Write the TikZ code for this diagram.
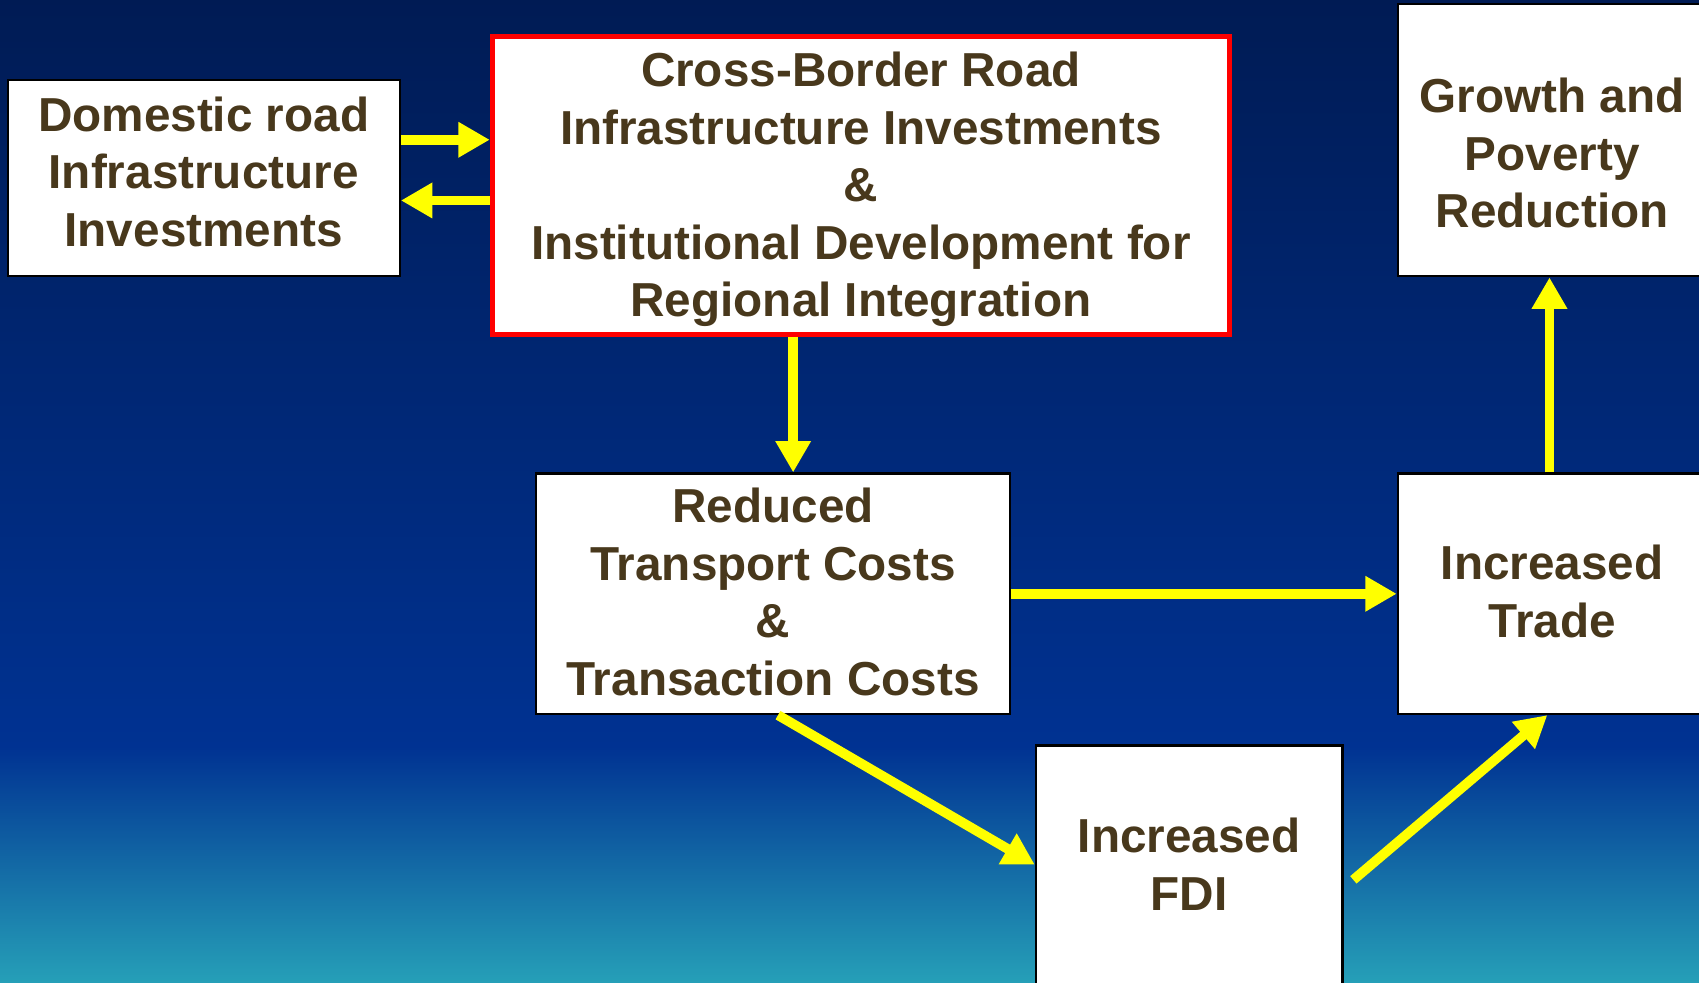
\documentclass[tikz,border=0pt]{standalone}
\usepackage{fontspec}
\setmainfont{Liberation Sans}
\usetikzlibrary{arrows.meta,calc}
\definecolor{txtbrown}{RGB}{72,56,28}
\definecolor{bgtop}{RGB}{0,27,84}
\definecolor{bgmid}{RGB}{0,50,146}
\definecolor{bgbot}{RGB}{38,160,184}
\definecolor{arrowyellow}{RGB}{255,255,0}
\definecolor{redframe}{RGB}{255,0,0}
% shift a block of centred lines down by half of #1 inside its box
\newcommand\boxlines[2]{\raisebox{0pt}[\dimexpr\height+#1\relax][\depth]{\begin{tabular}{@{}c@{}}#2\end{tabular}}}
\tikzset{
  box/.style={draw=black, line width=2pt, fill=white, text=txtbrown,
    font=\fontsize{44}{53}\selectfont\bfseries, inner sep=0pt},
  redbox/.style={box, draw=redframe, line width=5pt},
  arr/.style={draw=arrowyellow, line width=9pt,
    -{Triangle[length=29pt,width=31pt]}}
}
\begin{document}
\begin{tikzpicture}[x=1pt,y=-1pt]
\useasboundingbox (0,0) rectangle (1568,907);
\clip (0,0) rectangle (1568,907);
\shade[top color=bgtop, bottom color=bgmid] (0,-1) rectangle (1569,690);
\shade[top color=bgmid, bottom color=bgbot] (0,689) rectangle (1569,908);

\node[box, minimum width=362pt, minimum height=181pt] (dom) at (188,164.5)
  {\boxlines{-2pt}{Domestic road\\Infrastructure\\Investments}};
\node[redbox, minimum width=680pt, minimum height=275pt] (red) at (794.5,171)
  {\boxlines{9pt}{Cross-Border Road\\Infrastructure Investments\\\&\\Institutional Development for\\Regional Integration}};
\node[box, minimum width=285pt, minimum height=251pt] (growth) at (1432.5,129.5)
  {\boxlines{34pt}{Growth and\\Poverty\\Reduction}};
\node[box, minimum width=437pt, minimum height=222pt] (costs) at (713.5,548)
  {\boxlines{7pt}{Reduced\\Transport Costs\\\&\\Transaction Costs}};
\node[box, minimum width=285pt, minimum height=222pt] (trade) at (1432.5,548)
  {\boxlines{6pt}{Increased\\Trade}};
\node[box, minimum width=283pt, minimum height=220pt] (fdi) at (1097.5,798)
  {\boxlines{10pt}{Increased\\FDI}};

\draw[arr] (dom.east |- 0,129) -- (red.west |- 0,129);
\draw[arr] (red.west |- 0,185) -- (dom.east |- 0,185);
\draw[arr] (red.south -| 732,0) -- (costs.north -| 732,0);
\draw[arr] (costs.east |- 0,548) -- (trade.west |- 0,548);
\draw[arr] (trade.north -| 1430,0) -- (growth.south -| 1430,0);
\draw[arr] (costs.south -| 718,0) -- (fdi.west |- 0,798);
\draw[arr] ([xshift=9pt]fdi.east |- 0,812) -- (trade.south -| 1428,0);
\end{tikzpicture}
\end{document}
